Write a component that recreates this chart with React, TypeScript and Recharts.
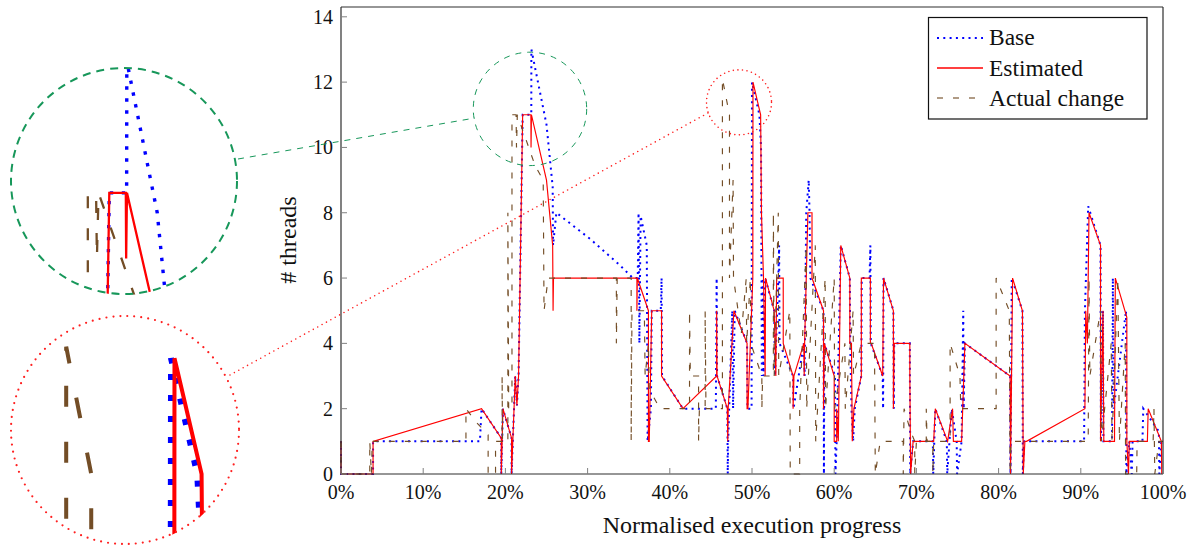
import React from 'react';
import { LineChart, Line, XAxis, YAxis, ReferenceDot, Legend, Label } from 'recharts';

const FONT = '"Liberation Serif", "Times New Roman", serif';

const xTicks = [0, 10, 20, 30, 40, 50, 60, 70, 80, 90, 100];
const yTicks = [0, 2, 4, 6, 8, 10, 12, 14];
const seriesNames = ['Base', 'Estimated', 'Actual change'];

// [progress %, threads]
const basePoints: [number, number][] = [
  [0, 1], [0, 0], [3.9, 0], [3.9, 1], [16.9, 1], [17.1, 2], [19.5, 1.1], [19.5, 0], [19.7, 2], [20.75, 1.1], [20.75, 0],
  [21.2, 3], [21.4, 2.1], [21.6, 3], [22.1, 11], [23.15, 11], [23.16, 13], [24.2, 11.7], [25.0, 10.7], [25.75, 8.8],
  [25.8, 7], [26.2, 8], [30.3, 7.2], [33.9, 6.4], [35.5, 6], [36.1, 6], [36.2, 8], [36.3, 4], [36.45, 7.9], [37.2, 7],
  [37.3, 1], [37.7, 2], [37.8, 5], [38.9, 5], [39.0, 6], [39.05, 3], [41.6, 2], [45.6, 2], [45.7, 6], [45.75, 3],
  [47.0, 2], [47.05, 0], [47.1, 1], [47.6, 5], [47.7, 2], [47.9, 5], [49.4, 4], [49.45, 2], [49.95, 2], [50.0, 12],
  [50.9, 11], [51.1, 10], [51.2, 3], [51.3, 6], [51.4, 3], [51.6, 6], [52.7, 5], [52.8, 3], [53.2, 6], [53.3, 7],
  [53.35, 4], [55.0, 3], [55.05, 2], [56.3, 4], [56.4, 3], [56.6, 8], [56.9, 9], [57.0, 8], [57.1, 6], [58.7, 5],
  [58.75, 0], [58.8, 4], [60.1, 3], [60.15, 0], [60.3, 1], [60.8, 7], [61.9, 6], [61.95, 4], [62.1, 2], [62.3, 1],
  [62.5, 2], [63.3, 3], [63.35, 6], [64.3, 6], [64.4, 7], [64.45, 4], [65.9, 3], [65.95, 2], [66.0, 6], [67.2, 5],
  [67.25, 2], [67.3, 4], [69.2, 4], [69.25, 0], [69.6, 1], [72.0, 1], [72.05, 0], [72.3, 2], [73.7, 1], [73.75, 0],
  [74.3, 2], [74.9, 1], [74.95, 0], [75.5, 1], [75.7, 5], [75.75, 2], [75.9, 4], [81.4, 3], [81.45, 0], [81.6, 6],
  [82.9, 5], [82.95, 0], [83.1, 1], [90.4, 1], [90.5, 5], [90.9, 8.2], [92.4, 7], [92.45, 1], [92.7, 5], [92.75, 1],
  [93.8, 1], [93.9, 6], [94.0, 2], [95.5, 5], [95.55, 0], [95.9, 1], [96.2, 0], [96.3, 1], [97.5, 1], [97.6, 2],
  [99.5, 1.3], [99.55, 0], [99.8, 1], [100, 1],
];

const estimatedPoints: [number, number][] = [
  [0, 1], [0, 0], [3.9, 0], [3.9, 1], [17.1, 2], [19.5, 1.1], [19.5, 0], [19.7, 2], [20.75, 1.1], [20.75, 0], [21.2, 3],
  [21.4, 2.1], [21.6, 3], [22.1, 11], [23.1, 11], [23.12, 10], [23.17, 11], [25.0, 9], [25.75, 7], [25.8, 5], [25.85, 6],
  [36.0, 6], [36.0, 5], [36.05, 6], [37.4, 5], [37.4, 1], [37.5, 1], [37.8, 5], [39.0, 5], [39.0, 3], [41.6, 2],
  [45.7, 3], [45.7, 5], [45.75, 3], [47.0, 2], [47.05, 1], [47.1, 2], [47.8, 5], [49.4, 4], [49.4, 2], [49.5, 2],
  [50.1, 6], [50.12, 12], [51.05, 11], [51.15, 8], [51.4, 6], [51.6, 3], [51.65, 6], [52.7, 5], [52.9, 3], [53.0, 6],
  [53.8, 6], [53.8, 4], [55.0, 3], [55.0, 2], [55.1, 3], [56.3, 4], [56.35, 3], [56.4, 4], [56.8, 8], [57.3, 8],
  [57.3, 6], [58.7, 5], [58.7, 2], [58.8, 4], [60.0, 3], [60.0, 1], [60.3, 1], [60.3, 2], [60.5, 1], [60.8, 7],
  [61.9, 6], [61.9, 4], [62.1, 4], [62.2, 1], [62.4, 2], [63.3, 3], [63.3, 6], [64.4, 6], [64.4, 4], [64.5, 4],
  [65.9, 3], [66.0, 6], [67.2, 5], [67.2, 2], [67.3, 4], [69.2, 4], [69.2, 3], [69.3, 0], [69.6, 1], [72.1, 1],
  [72.3, 2], [73.8, 1], [74.4, 2], [74.5, 1], [75.5, 1], [75.9, 4], [81.4, 3], [81.45, 0], [81.7, 6], [82.9, 5],
  [83.0, 0], [83.2, 1], [83.4, 1], [90.5, 2], [90.6, 5], [90.8, 4], [91.0, 8], [92.4, 7], [92.4, 1], [92.7, 5],
  [92.8, 1], [94.1, 1], [94.2, 6], [95.6, 4.8], [95.6, 1], [95.8, 0], [95.9, 1], [98.1, 1], [98.2, 2], [99.8, 1],
  [99.85, 0],
];

const actualPoints: [number, number][] = [
  [0, 1], [0, 0], [3.5, 0], [3.5, 1], [3.7, 0], [3.8, 1], [15.2, 1], [15.2, 2], [16.4, 1.6], [17.9, 1.2], [17.9, 0],
  [18.8, 0], [18.8, 1], [19.6, 1], [19.6, 3], [19.65, 1], [20.3, 1], [20.3, 8], [20.4, 2], [20.8, 2], [20.8, 11],
  [21.3, 11], [21.35, 10], [21.45, 11], [23.6, 9.45], [24.6, 9], [24.7, 5], [25.2, 6], [33.5, 6], [33.5, 4], [33.6, 6],
  [35.3, 6], [35.3, 1], [35.4, 5], [36.9, 5], [37.0, 3], [37.4, 4], [37.5, 2.6], [38.8, 2], [42.4, 2], [42.4, 5],
  [42.5, 3], [43.5, 3], [43.5, 1], [43.6, 2], [44.3, 2], [44.3, 5], [44.4, 2], [46.4, 2], [46.4, 12.1], [47.26, 11],
  [47.26, 6], [47.7, 9], [47.75, 6], [48.7, 4.3], [49.3, 6], [49.35, 4], [49.8, 6], [49.85, 4], [51.2, 3], [51.2, 2],
  [51.3, 3], [52.6, 3], [52.6, 8], [52.7, 3], [53.2, 8], [53.25, 3], [54.6, 5], [54.65, 0], [55.8, 0], [55.8, 2],
  [56.6, 7], [56.65, 2], [57.7, 7], [57.75, 1], [58.9, 6], [58.95, 2], [60.0, 6], [60.05, 2], [61.3, 4], [61.35, 2],
  [62.3, 5], [62.35, 3], [63.3, 4], [64.9, 4], [65.0, 0], [65.6, 1], [68.4, 1], [68.4, 0], [68.5, 2], [69.3, 1.3],
  [69.8, 1], [69.8, 0], [70.0, 1], [71.2, 1], [71.2, 2], [71.3, 1], [72.0, 1], [72.0, 0], [72.1, 1], [74.1, 1],
  [74.1, 4], [75.3, 3], [75.4, 2], [75.5, 2], [79.7, 2], [79.7, 6], [81.3, 5], [81.4, 0], [81.5, 1], [90.9, 1],
  [91.0, 6], [91.1, 3], [92.4, 5], [92.5, 1], [93.7, 4], [93.8, 1], [94.5, 6], [94.7, 1], [95.4, 4], [95.45, 0],
  [96.8, 0], [96.85, 1], [98.8, 1], [98.9, 2], [99.0, 0], [99.5, 1], [100, 1],
];

// zoom (spy) regions: centre in data units, radius in main-chart pixels
const spyGreen = { x: 22.99, y: 11.18, r: 56.7, halfX: 6.9, halfY: 1.734 };
const spyRed = { x: 48.42, y: 11.38, r: 32.5, halfX: 3.95, halfY: 0.994 };

const toRows = (pts: [number, number][]) => pts.map(([x, y]) => ({ x, y }));
const baseData = toRows(basePoints);
const estData = toRows(estimatedPoints);
const actData = toRows(actualPoints);

const C = {
  base: '#0000ff',
  est: '#ff0000',
  act: '#734d26',
  green: '#17975a',
  red: '#ff2020',
  frame: '#2e2e2e',
  tick: '#808080',
  text: '#111',
};

const BottomTick = (p: any) => (
  <g>
    <line x1={p.x} y1={p.y} x2={p.x} y2={p.y - 6} stroke={C.tick} strokeWidth={1} />
    <text x={p.x} y={p.y + 25} textAnchor="middle" fontFamily={FONT} fontSize={20} fill={C.text}>
      {`${p.payload.value}%`}
    </text>
  </g>
);
const TopTick = (p: any) => (
  <line x1={p.x} y1={p.y} x2={p.x} y2={p.y + 6} stroke={C.tick} strokeWidth={1} />
);
const LeftTick = (p: any) => (
  <g>
    <line x1={p.x} y1={p.y} x2={p.x + 6} y2={p.y} stroke={C.tick} strokeWidth={1} />
    <text x={p.x - 8} y={p.y + 7} textAnchor="end" fontFamily={FONT} fontSize={20} fill={C.text}>
      {p.payload.value}
    </text>
  </g>
);
const RightTick = (p: any) => (
  <line x1={p.x} y1={p.y} x2={p.x - 6} y2={p.y} stroke={C.tick} strokeWidth={1} />
);

const XLabel = (p: any) => {
  const vb = p.viewBox || { x: 341, y: 474, width: 822 };
  return (
    <text x={vb.x + vb.width / 2} y={474 + 59} textAnchor="middle" fontFamily={FONT} fontSize={24} fill={C.text}>
      Normalised execution progress
    </text>
  );
};
const YLabel = () => {
  const cx = 296;
  const cy = 240;
  return (
    <text x={cx} y={cy} transform={`rotate(-90, ${cx}, ${cy})`} textAnchor="middle" fontFamily={FONT} fontSize={24} fill={C.text}>
      # threads
    </text>
  );
};

const LegendBox = () => (
  <svg width={220} height={104} style={{ display: 'block', overflow: 'visible' }}>
    <rect x={0.5} y={0.5} width={218.5} height={101.5} fill="#fff" stroke="#111" strokeWidth={1.2} />
    <line x1={9} y1={21} x2={55} y2={21} stroke={C.base} strokeWidth={2} strokeDasharray="2 4.3" />
    <line x1={9} y1={51} x2={55} y2={51} stroke={C.est} strokeWidth={1.3} />
    <line x1={9} y1={81} x2={55} y2={81} stroke={C.act} strokeWidth={1.3} strokeDasharray="6 10" strokeOpacity={0.75} />
    <text x={61} y={28} fontFamily={FONT} fontSize={23.5} fill={C.text}>{seriesNames[0]}</text>
    <text x={61} y={59} fontFamily={FONT} fontSize={23.5} fill={C.text}>{seriesNames[1]}</text>
    <text x={61} y={89} fontFamily={FONT} fontSize={23.5} fill={C.text}>{seriesNames[2]}</text>
  </svg>
);

type InsetProps = {
  spy: typeof spyGreen;
  size: number;
  scale: number;
};

const Inset = ({ spy, size, scale }: InsetProps) => (
  <LineChart width={size} height={size} margin={{ top: 0, right: 0, bottom: 0, left: 0 }}>
    <XAxis type="number" dataKey="x" domain={[spy.x - spy.halfX, spy.x + spy.halfX]} allowDataOverflow hide height={0} />
    <YAxis type="number" dataKey="y" domain={[spy.y - spy.halfY, spy.y + spy.halfY]} allowDataOverflow hide width={0} />
    <Line data={baseData} dataKey="y" type="linear" stroke={C.base} strokeWidth={2 * scale * 0.85}
      strokeDasharray={`${2 * scale * 0.85} ${4.3 * scale}`} dot={false} activeDot={false} isAnimationActive={false} />
    <Line data={estData} dataKey="y" type="linear" stroke={C.est} strokeWidth={1.15 * scale} dot={false}
      activeDot={false} isAnimationActive={false} />
    <Line data={actData} dataKey="y" type="linear" stroke={C.act} strokeWidth={1.15 * scale}
      strokeDasharray={`${6 * scale} ${10 * scale}`} dot={false} activeDot={false} isAnimationActive={false} />
  </LineChart>
);

export default function App() {
  return (
    <div style={{ position: 'absolute', left: 0, top: 0, width: 1190, height: 546, background: '#fff', fontFamily: FONT }}>
      <div style={{ position: 'absolute', left: 0, top: 0 }}>
        <LineChart width={1190} height={546} margin={{ top: 6, right: 26, bottom: 71, left: 340 }}>
          <XAxis xAxisId={0} type="number" dataKey="x" domain={[0, 100]} ticks={xTicks} interval={0}
            height={1} tickSize={0} tickMargin={0} tick={<BottomTick />} tickLine={false}
            axisLine={{ stroke: C.frame, strokeWidth: 1.2 }}>
            <Label content={<XLabel />} />
          </XAxis>
          <XAxis xAxisId="top" orientation="top" type="number" dataKey="x" domain={[0, 100]} ticks={xTicks} interval={0}
            height={1} tickSize={0} tickMargin={0} tick={<TopTick />} tickLine={false}
            axisLine={{ stroke: C.frame, strokeWidth: 1.2 }} />
          <YAxis yAxisId={0} type="number" domain={[0, 14.3]} ticks={yTicks} interval={0}
            width={1} tickSize={0} tickMargin={0} tick={<LeftTick />} tickLine={false}
            axisLine={{ stroke: C.frame, strokeWidth: 1.2 }}>
            <Label content={<YLabel />} />
          </YAxis>
          <YAxis yAxisId="right" orientation="right" type="number" domain={[0, 14.3]} ticks={yTicks} interval={0}
            width={1} tickSize={0} tickMargin={0} tick={<RightTick />} tickLine={false}
            axisLine={{ stroke: C.frame, strokeWidth: 1.2 }} />
          <Line data={baseData} dataKey="y" name={seriesNames[0]} type="linear" stroke={C.base} strokeWidth={2}
            strokeDasharray="2 4.3" dot={false} activeDot={false} isAnimationActive={false} />
          <Line data={estData} dataKey="y" name={seriesNames[1]} type="linear" stroke={C.est} strokeWidth={1.15}
            dot={false} activeDot={false} isAnimationActive={false} />
          <Line data={actData} dataKey="y" name={seriesNames[2]} type="linear" stroke={C.act} strokeWidth={1.15}
            strokeDasharray="6 10" dot={false} activeDot={false} isAnimationActive={false} />
          <ReferenceDot x={spyGreen.x} y={spyGreen.y} r={spyGreen.r} fill="none" stroke={C.green}
            strokeWidth={1} strokeDasharray="6 6" />
          <ReferenceDot x={spyRed.x} y={spyRed.y} r={spyRed.r} fill="none" stroke={C.red}
            strokeWidth={1.6} strokeDasharray="0 4.6" strokeLinecap="round" />
          <Legend layout="horizontal" verticalAlign="middle" align="center" content={<LegendBox />}
            wrapperStyle={{ position: 'absolute', left: 928, top: 17, width: 220, height: 104 }} />
        </LineChart>
      </div>

      <div style={{ position: 'absolute', left: 10, top: 67, width: 228, height: 228, borderRadius: '50%', overflow: 'hidden', background: '#fff' }}>
        <Inset spy={spyGreen} size={228} scale={2} />
      </div>
      <div style={{ position: 'absolute', left: 10, top: 315, width: 230, height: 230, borderRadius: '50%', overflow: 'hidden', background: '#fff' }}>
        <Inset spy={spyRed} size={230} scale={3.5} />
      </div>

      <svg width={1190} height={546} style={{ position: 'absolute', left: 0, top: 0, pointerEvents: 'none' }}>
        <circle cx={124} cy={181} r={113} fill="none" stroke={C.green} strokeWidth={2} strokeDasharray="8 6" />
        <line x1={238} y1={159} x2={475} y2={118} stroke={C.green} strokeWidth={1} strokeDasharray="6 6" />
        <circle cx={125} cy={430} r={114} fill="none" stroke={C.red} strokeWidth={2.2} strokeDasharray="0 7" strokeLinecap="round" />
        <line x1={230} y1={375} x2={708} y2={113} stroke={C.red} strokeWidth={1.6} strokeDasharray="0 5" strokeLinecap="round" />
      </svg>
    </div>
  );
}
